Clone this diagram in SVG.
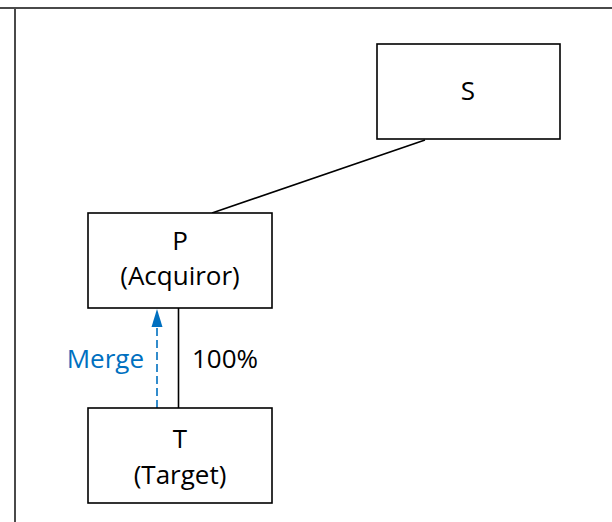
<svg xmlns="http://www.w3.org/2000/svg" width="612" height="522" viewBox="0 0 612 522">
  <style>
    .frame { stroke: #4a4a4a; stroke-width: 2; fill: none; }
    .box { fill: #ffffff; stroke: #000000; stroke-width: 1.6; }
    .lbl { font-family: "Open Sans", "Noto Sans", sans-serif; font-size: 26px; fill: #000000; }
    .ctr { text-anchor: middle; }
    .link { stroke: #000000; stroke-width: 1.6; fill: none; }
    .merge { stroke: #0070C0; stroke-width: 1.6; stroke-dasharray: 8 4; fill: none; }
    .blue { fill: #0070C0; }
  </style>

  <rect width="612" height="522" fill="#ffffff"/>

  <!-- table cell rules -->
  <g id="frame">
    <line class="frame" x1="0" y1="8" x2="612" y2="8"/>
    <line class="frame" x1="15" y1="8" x2="15" y2="522"/>
  </g>

  <!-- connectors -->
  <g id="connectors">
    <line class="link" x1="425" y1="140" x2="212" y2="213"/>
    <line class="link" x1="178.5" y1="308" x2="178.5" y2="408"/>
    <line class="merge" x1="157" y1="408" x2="157" y2="326"/>
    <path class="blue" d="M157 309 L162.5 327 L151.5 327 Z"/>
    <text class="lbl" x="144" y="368" text-anchor="end" style="fill:#0070C0">Merge</text>
    <text class="lbl" x="192" y="368">100%</text>
  </g>

  <g id="node-s">
    <rect class="box" x="377" y="44" width="183" height="95"/>
    <text class="lbl ctr" x="468" y="100">S</text>
  </g>

  <g id="node-p">
    <rect class="box" x="88" y="213" width="184" height="95"/>
    <text class="lbl ctr" x="180" y="250">P</text>
    <text class="lbl ctr" x="180" y="285">(Acquiror)</text>
  </g>

  <g id="node-t">
    <rect class="box" x="88" y="408" width="184" height="95"/>
    <text class="lbl ctr" x="180" y="448">T</text>
    <text class="lbl ctr" x="180" y="484">(Target)</text>
  </g>
</svg>
